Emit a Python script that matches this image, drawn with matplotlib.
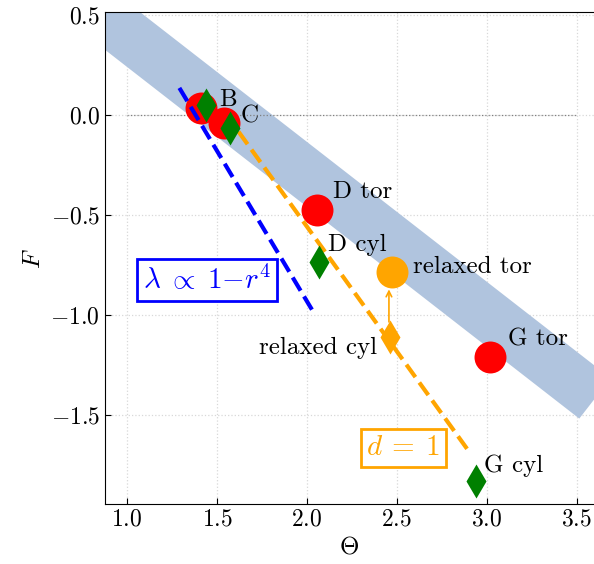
import matplotlib.pyplot as plt

plt.rcParams['font.family'] = 'serif'
plt.rcParams['font.serif'] = ['cmr10']
plt.rcParams['mathtext.fontset'] = 'cm'
plt.rcParams['axes.formatter.use_mathtext'] = True

# --- data ---
band_theta = [0.6, 3.606]
band_F = [0.682, -1.42]

tor_labels = ['B', 'C', 'D tor', 'G tor']
tor_theta = [1.41, 1.541, 2.056, 3.018]
tor_F = [0.034, -0.042, -0.475, -1.209]

cyl_labels = ['', '', 'D cyl', 'G cyl']
cyl_theta = [1.437, 1.574, 2.068, 2.939]
cyl_F = [0.05, -0.067, -0.737, -1.832]

relaxed_tor = (2.474, -0.784)
relaxed_cyl = (2.461, -1.112)

lam_theta = [1.291, 2.029]
lam_F = [0.135, -0.975]

d1_theta = [1.62, 2.907]
d1_F = [-0.084, -1.69]

fig = plt.figure(figsize=(5.94, 5.64), dpi=100)
ax = fig.add_axes([0.1763, 0.1064, 0.8237, 0.8718])

ax.plot(band_theta, band_F, color='lightsteelblue', lw=36.9,
        solid_capstyle='butt', zorder=1)
ax.hlines(0, 1.0, 3.5, color='gray', linestyle=':', lw=0.9, zorder=1.5)

ax.plot(tor_theta, tor_F, 'o', color='red', ms=23, mec='none', zorder=2)
ax.plot(*relaxed_tor, 'o', color='orange', ms=23, mec='none', zorder=2)

ax.plot(lam_theta, lam_F, '--', color='blue', lw=3, zorder=3)
ax.plot(d1_theta, d1_F, '--', color='orange', lw=3, zorder=3)

ax.plot(cyl_theta, cyl_F, 'd', color='green', ms=17, mec='none', zorder=4)
ax.plot(*relaxed_cyl, 'd', color='orange', ms=17, mec='none', zorder=4)

ax.annotate('', xy=(2.456, -0.872), xytext=(2.456, -1.035),
            arrowprops=dict(arrowstyle='->', color='orange', lw=1.2,
                            shrinkA=0, shrinkB=0), zorder=4)

fs = 18
ax.text(1.514, 0.075, 'B', fontsize=fs, va='center')
ax.text(1.63, -0.01, 'C', fontsize=fs, va='center')
ax.text(2.146, -0.385, 'D tor', fontsize=fs, va='center')
ax.text(2.118, -0.65, 'D cyl', fontsize=fs, va='center')
ax.text(2.59, -0.76, 'relaxed tor', fontsize=fs, va='center')
ax.text(2.39, -1.165, 'relaxed cyl', fontsize=fs, va='center', ha='right')
ax.text(3.118, -1.12, 'G tor', fontsize=fs, va='center')
ax.text(2.985, -1.755, 'G cyl', fontsize=fs, va='center')

ax.text(1.443, -0.825, r'$\lambda\;\propto\;1{-}r^4$', fontsize=21,
        color='blue', ha='center', va='center', zorder=5,
        bbox=dict(boxstyle='square,pad=0.2', fc='white', ec='blue', lw=2))
ax.text(2.536, -1.665, r'$d\:=\:1$', fontsize=21,
        color='orange', ha='center', va='center', zorder=5,
        bbox=dict(boxstyle='square,pad=0.2', fc='white', ec='orange', lw=2))

ax.set_xlim(0.876, 3.596)
ax.set_ylim(-1.945, 0.513)
ax.set_xticks([1.0, 1.5, 2.0, 2.5, 3.0, 3.5])
ax.set_yticks([-1.5, -1.0, -0.5, 0.0, 0.5])
ax.tick_params(labelsize=17, direction='in', length=4)
ax.spines['right'].set_visible(False)
ax.grid(True, color='#d8d8d8', linestyle=':', lw=0.9)
ax.set_axisbelow(True)
ax.set_xlabel(r'$\Theta$', fontsize=18)
ax.set_ylabel(r'$F$', fontsize=18)

fig.savefig('out.png', dpi=100)
